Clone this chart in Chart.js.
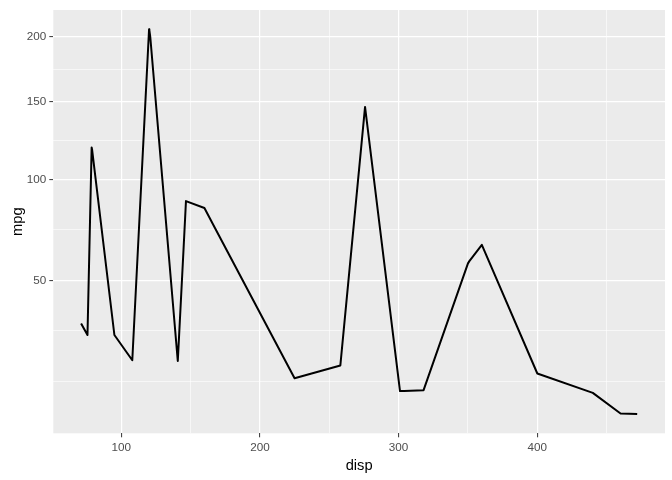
<!DOCTYPE html>
<html>
<head>
<meta charset="utf-8">
<script src="https://cdn.jsdelivr.net/npm/chart.js@4"></script>
<style>
  html, body { margin: 0; padding: 0; background: #fff; }
  #wrap { width: 672px; height: 480px; }
</style>
</head>
<body>
<div id="wrap"><canvas id="c" width="672" height="480"></canvas></div>
<script>
// values (sorted by disp, geom_line style)
const disp = [71.1, 75.7, 78.7, 79.0, 95.1, 108, 120.1, 120.3, 121, 140.8, 145, 146.7,
              160, 160, 167.6, 167.6, 225, 258, 275.8, 275.8, 275.8, 301, 304, 318,
              350, 351, 360, 360, 400, 440, 460, 472];
const mpg = [33.9, 30.1, 119.3, 118.1, 30.1, 22.6, 206.0, 205.3, 199.2, 22.4, 64.3, 87.8,
             84.1, 84.1, 73.8, 73.8, 17.9, 21.2, 146.4, 146.4, 146.4, 14.9, 14.9, 15.1,
             57.2, 58.2, 65.6, 65.6, 19.1, 14.5, 10.3, 10.2];
const xBreaks = [100, 200, 300, 400];
const yBreaks = [50, 100, 150, 200];

const FONT = "'Liberation Sans', Arial, sans-serif";

// ggplot-like 5% expansion; y lives in sqrt space
function expand(lo, hi) {
  const d = (hi - lo) * 0.05;
  return [lo - d, hi + d];
}
const [xMin, xMax] = expand(Math.min(...disp), Math.max(...disp));
const ySq = mpg.map(v => Math.sqrt(v));
const [yMin, yMax] = expand(Math.min(...ySq), Math.max(...ySq));

// majors + minors (midpoints, also the extended breaks) like regular_minor_breaks
function buildTicks(major, lo, hi, label) {
  const n = major.length;
  const ext = [major[0] - (major[1] - major[0]), ...major, major[n - 1] + (major[n - 1] - major[n - 2])];
  const out = major.map((v, i) => ({ value: v, isMinor: false, lab: label[i] }));
  ext.forEach((v, i) => {
    if (i === 0 || i === ext.length - 1) out.push({ value: v, isMinor: true, lab: '' });
    if (i > 0) out.push({ value: (v + ext[i - 1]) / 2, isMinor: true, lab: '' });
  });
  return out.filter(t => t.value >= lo && t.value <= hi).sort((a, b) => a.value - b.value);
}

const xTicks = buildTicks(xBreaks, xMin, xMax, xBreaks.map(String));
const yTicks = buildTicks(yBreaks.map(v => Math.sqrt(v)), yMin, yMax, yBreaks.map(String));

const panelBg = {
  id: 'panelBg',
  beforeDraw(chart) {
    const { ctx, chartArea: a } = chart;
    ctx.save();
    ctx.fillStyle = '#ffffff';
    ctx.fillRect(0, 0, chart.width, chart.height);
    ctx.fillStyle = '#EBEBEB';
    ctx.fillRect(a.left, a.top, a.right - a.left, a.bottom - a.top);
    ctx.restore();
  }
};

function gridOpts() {
  return {
    color: '#ffffff',
    lineWidth: c => (c.tick && c.tick.isMinor ? 0.6 : 1.2),
    drawTicks: true,
    tickLength: 4,
    tickWidth: 1,
    tickColor: c => (c.tick && c.tick.isMinor ? 'rgba(0,0,0,0)' : '#333333')
  };
}

new Chart(document.getElementById('c'), {
  type: 'line',
  data: {
    datasets: [{
      data: disp.map((d, i) => ({ x: d, y: Math.sqrt(mpg[i]) })),
      borderColor: '#000000',
      borderWidth: 2,
      borderJoinStyle: 'round',
      borderCapStyle: 'butt',
      pointRadius: 0,
      tension: 0,
      fill: false
    }]
  },
  options: {
    responsive: false,
    animation: false,
    layout: { padding: { top: 7, right: 7, left: 0, bottom: 0 } },
    plugins: { legend: { display: false }, tooltip: { enabled: false } },
    scales: {
      x: {
        type: 'linear',
        min: xMin,
        max: xMax,
        border: { display: false },
        grid: gridOpts(),
        afterBuildTicks: ax => { ax.ticks = xTicks.map(t => ({ ...t })); },
        afterFit: ax => { ax.height = 46.7; },
        ticks: {
          autoSkip: false,
          maxRotation: 0,
          padding: 3,
          color: '#4D4D4D',
          font: { family: FONT, size: 11.7 },
          callback: (v, i, ticks) => ticks[i].lab
        },
        title: {
          display: true,
          text: 'disp',
          color: '#000000',
          font: { family: FONT, size: 14.7 },
          padding: { top: 0, bottom: 5 }
        }
      },
      y: {
        type: 'linear',
        min: yMin,
        max: yMax,
        border: { display: false },
        grid: gridOpts(),
        afterBuildTicks: ax => { ax.ticks = yTicks.map(t => ({ ...t })); },
        afterFit: ax => { ax.width = 53.3; },
        ticks: {
          autoSkip: false,
          padding: 3,
          color: '#4D4D4D',
          font: { family: FONT, size: 11.7 },
          callback: (v, i, ticks) => ticks[i].lab
        },
        title: {
          display: true,
          text: 'mpg',
          color: '#000000',
          font: { family: FONT, size: 14.7 },
          padding: { top: 9, bottom: 0 }
        }
      }
    }
  },
  plugins: [panelBg]
});
</script>
</body>
</html>
